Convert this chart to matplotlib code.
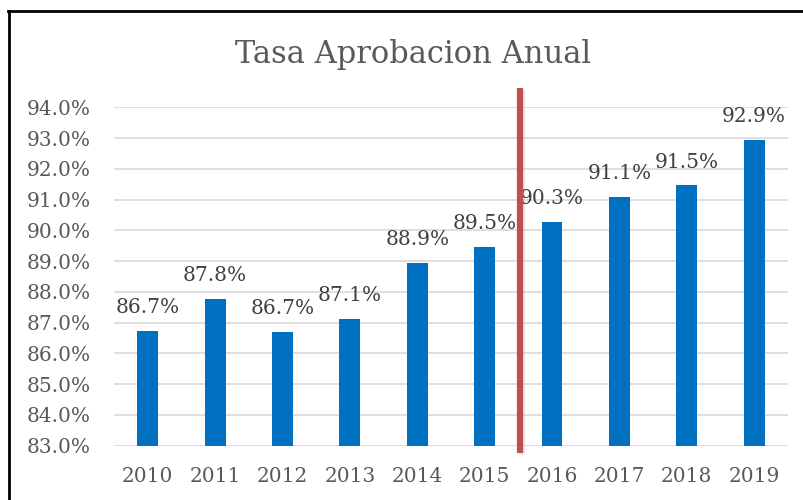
import matplotlib
matplotlib.use("Agg")
import matplotlib.pyplot as plt
from matplotlib.lines import Line2D
import matplotlib.patheffects as pe

# data
years = ["2010", "2011", "2012", "2013", "2014", "2015", "2016", "2017", "2018", "2019"]
rates = [86.74, 87.76, 86.71, 87.12, 88.94, 89.47, 90.26, 91.08, 91.46, 92.93]
y_ticks = [83, 84, 85, 86, 87, 88, 89, 90, 91, 92, 93, 94]
split_pos = 5.53  # red marker between 2015 and 2016

plt.rcParams['font.family'] = ['DejaVu Serif']

fig = plt.figure(figsize=(8.04, 5.0), dpi=100)
ax = fig.add_axes([0.1418, 0.1086, 0.8382, 0.6768])

x = range(len(years))
bars = ax.bar(x, rates, width=0.31, bottom=0, color="#0070C0", zorder=2)

ax.set_xlim(-0.5, 9.5)
ax.set_ylim(83, 94)
ax.set_yticks(y_ticks)
ax.set_yticklabels([f"{v:.1f}%" for v in y_ticks])
ax.set_xticks(list(x))
ax.set_xticklabels(years)

ax.grid(axis="y", color="#D9D9D9", linewidth=1.2, zorder=0)
for s in ax.spines.values():
    s.set_visible(False)
ax.tick_params(axis="both", length=0, labelsize=14.5, colors="#595959")
ax.tick_params(axis="y", pad=17)
ax.tick_params(axis="x", pad=15)

for xi, v in zip(x, rates):
    ax.annotate(f"{v:.1f}%", (xi, v), xytext=(0, 10), textcoords="offset points",
                ha="center", va="bottom", fontsize=14.5, color="#404040")

# vertical marker
ax.plot([split_pos, split_pos], [82.77, 94.62], color="#C0504D", linewidth=4.5,
        solid_capstyle="butt", clip_on=False, zorder=3,
        path_effects=[pe.SimpleLineShadow(offset=(1.5, -1.5), alpha=0.08), pe.Normal()])

fig.text(0.514, 0.89, "Tasa Aprobacion Anual", ha="center", va="center",
         fontsize=22, color="#595959")

# frame on left and top
fig.add_artist(Line2D([9 / 804, 9 / 804], [0, 1 - 10.5 / 500], color="black", linewidth=2))
fig.add_artist(Line2D([8 / 804, 1], [1 - 10.5 / 500, 1 - 10.5 / 500], color="black", linewidth=2))

fig.savefig("out.png", dpi=100)
